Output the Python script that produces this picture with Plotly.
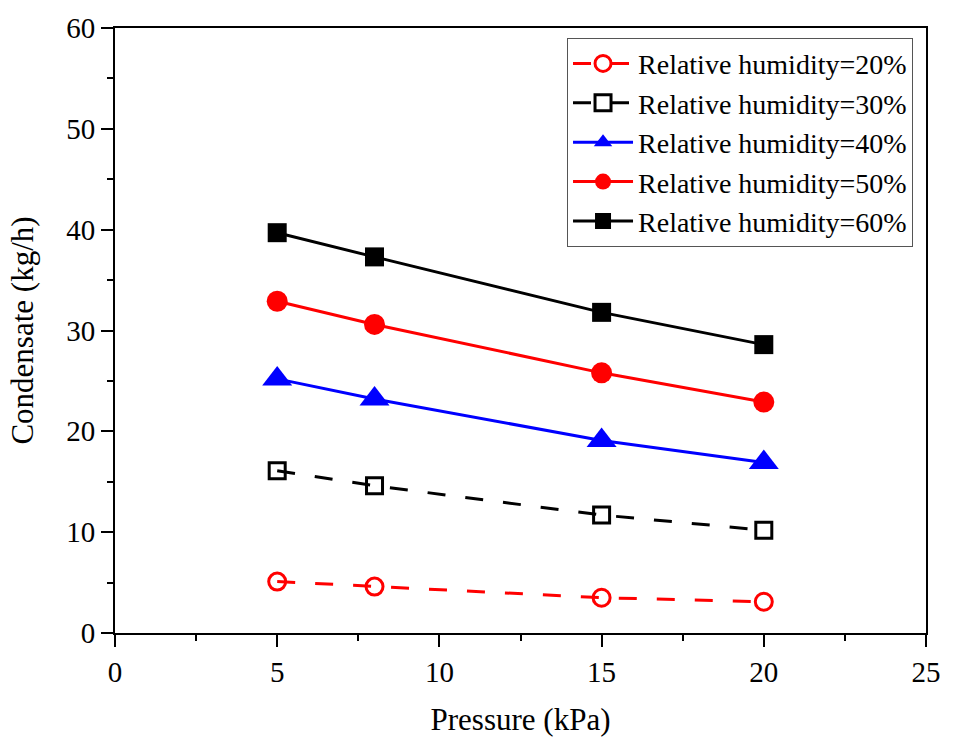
import plotly.graph_objects as go

pressure = [5, 8, 15, 20]
rh20 = [5.1, 4.6, 3.5, 3.1]
rh30 = [16.1, 14.6, 11.7, 10.2]
rh40 = [25.2, 23.2, 19.1, 16.9]
rh50 = [32.9, 30.6, 25.8, 22.9]
rh60 = [39.7, 37.3, 31.8, 28.6]

names = ["Relative humidity=20%", "Relative humidity=30%", "Relative humidity=40%",
         "Relative humidity=50%", "Relative humidity=60%"]

FONT = "Liberation Serif, Times New Roman, serif"

fig = go.Figure()
fig.add_trace(go.Scatter(x=pressure, y=rh20, name=names[0], mode="lines+markers",
                         line=dict(color="#ff0000", width=3, dash="18px,20px"),
                         marker=dict(symbol="circle-open", size=17, color="#ff0000",
                                     line=dict(width=3, color="#ff0000"))))
fig.add_trace(go.Scatter(x=pressure, y=rh30, name=names[1], mode="lines+markers",
                         line=dict(color="#000000", width=3, dash="18px,20px"),
                         marker=dict(symbol="square-open", size=16, color="#000000",
                                     line=dict(width=3, color="#000000"))))
fig.add_trace(go.Scatter(x=pressure, y=rh40, name=names[2], mode="lines+markers",
                         line=dict(color="#0000ff", width=3),
                         marker=dict(symbol="triangle-up", size=26, color="#0000ff")))
fig.add_trace(go.Scatter(x=pressure, y=rh50, name=names[3], mode="lines+markers",
                         line=dict(color="#ff0000", width=3),
                         marker=dict(symbol="circle", size=21, color="#ff0000")))
fig.add_trace(go.Scatter(x=pressure, y=rh60, name=names[4], mode="lines+markers",
                         line=dict(color="#000000", width=3),
                         marker=dict(symbol="square", size=19, color="#000000")))

axis_common = dict(showline=True, linecolor="black", linewidth=2, mirror=True,
                   ticks="outside", ticklen=12, tickwidth=2, tickcolor="black",
                   showgrid=False, zeroline=False,
                   tickfont=dict(family=FONT, size=29, color="black"))

fig.update_xaxes(range=[0, 25], tick0=0, dtick=5, **axis_common,
                 minor=dict(ticks="outside", ticklen=6, tickwidth=2, tickcolor="black",
                            tick0=0, dtick=2.5),
                 title=dict(text="Pressure (kPa)", font=dict(family=FONT, size=31, color="black"),
                            standoff=22))
fig.update_yaxes(range=[0, 60], tick0=0, dtick=10, **axis_common,
                 minor=dict(ticks="outside", ticklen=6, tickwidth=2, tickcolor="black",
                            tick0=0, dtick=5),
                 title=dict(text="Condensate (kg/h)", font=dict(family=FONT, size=31, color="black"),
                            standoff=23))

fig.update_layout(
    width=953, height=743,
    margin=dict(l=115, r=17, t=22, b=110),
    plot_bgcolor="white", paper_bgcolor="white",
    font=dict(family=FONT, color="black"),
    legend=dict(x=0.984, y=0.984, xanchor="right", yanchor="top",
                bgcolor="white", bordercolor="#555555", borderwidth=1,
                font=dict(family=FONT, size=28, color="black"),
                tracegroupgap=0, itemwidth=60),
    showlegend=True,
)

fig.write_html("out.html")
